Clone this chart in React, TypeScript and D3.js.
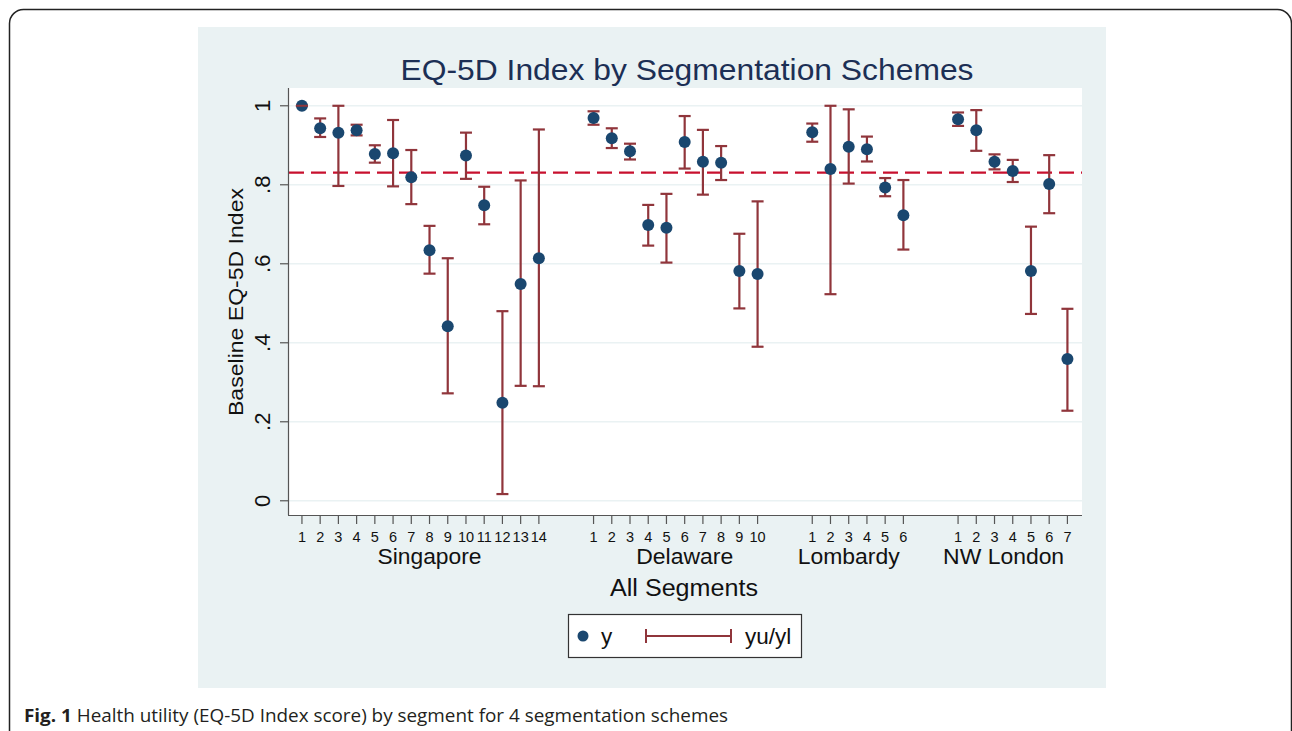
import React from 'react';
import * as d3 from 'd3';

// segmentation schemes and where each one starts on the "All Segments" axis
const groups = ["Singapore", "Delaware", "Lombardy", "NW London"];
const groupStart = [1, 17, 29, 37];
const groupLabelAt = [8, 22, 31, 39.5];

// mean EQ-5D index per segment (y)
const yMean = [
  [1.0, 0.943, 0.932, 0.938, 0.878, 0.880, 0.819, 0.634, 0.442, 0.874, 0.748, 0.248, 0.549, 0.614],
  [0.969, 0.918, 0.885, 0.698, 0.691, 0.908, 0.858, 0.856, 0.582, 0.574],
  [0.933, 0.840, 0.896, 0.890, 0.793, 0.723],
  [0.966, 0.938, 0.858, 0.835, 0.582, 0.802, 0.359],
];
// upper bound (yu)
const yUpper = [
  [1.0, 0.968, 1.0, 0.952, 0.900, 0.964, 0.888, 0.696, 0.614, 0.932, 0.795, 0.480, 0.811, 0.940],
  [0.986, 0.943, 0.904, 0.749, 0.777, 0.974, 0.939, 0.898, 0.676, 0.758],
  [0.955, 1.0, 0.991, 0.922, 0.817, 0.812],
  [0.983, 0.989, 0.877, 0.863, 0.694, 0.875, 0.486],
];
// lower bound (yl)
const yLower = [
  [1.0, 0.921, 0.797, 0.925, 0.856, 0.796, 0.751, 0.575, 0.272, 0.815, 0.700, 0.017, 0.291, 0.290],
  [0.952, 0.893, 0.864, 0.646, 0.603, 0.841, 0.775, 0.812, 0.487, 0.390],
  [0.909, 0.523, 0.803, 0.859, 0.771, 0.636],
  [0.949, 0.886, 0.839, 0.807, 0.473, 0.728, 0.228],
];

const overallMean = 0.831;
const yTicks = [0, 0.2, 0.4, 0.6, 0.8, 1];
const yTickLabels = ["0", ".2", ".4", ".6", ".8", "1"];

const W = 1292;
const H = 731;
const font = "'Liberation Sans', Arial, sans-serif";

const NAVY = "#1a476f";
const MAROON = "#90353b";
const BG = "#eaf2f3";

// widths of the larger labels as they appear in the original (wide Helvetica)
const groupLabelWidth = [104, 97, 102, 121];

const App: React.FC = () => {
  const x = d3.scaleLinear().domain([0.29, 43.8]).range([289, 1082]);
  const y = d3.scaleLinear().domain([-0.036, 1.045]).range([515, 88]);

  const points = groups.flatMap((g, gi) =>
    yMean[gi].map((m, i) => ({
      group: g,
      seg: i + 1,
      pos: groupStart[gi] + i,
      mean: m,
      lo: yLower[gi][i],
      hi: yUpper[gi][i],
    }))
  );

  const capW = 6;

  return (
    <div style={{ position: 'absolute', left: 0, top: 0 }}>
      <svg width={W} height={H} style={{ display: 'block', background: '#fff' }}>
        {/* figure frame */}
        <rect x={9.5} y={9.5} width={1282} height={760} rx={14} fill="none" stroke="#222" strokeWidth={1.5} />

        {/* graph region */}
        <rect x={198} y={27} width={908} height={661} fill={BG} />
        <rect x={289} y={88} width={793} height={427} fill="#fff" />

        <text x={687} y={80} textAnchor="middle" fontFamily={font} fontSize={29} fill="#1c2f55"
          textLength={573} lengthAdjust="spacingAndGlyphs">
          EQ-5D Index by Segmentation Schemes
        </text>

        {/* gridlines */}
        {yTicks.map(t => (
          <line key={t} x1={289} x2={1082} y1={y(t)} y2={y(t)} stroke={BG} strokeWidth={1.6} />
        ))}

        {/* y axis */}
        <line x1={288.5} x2={288.5} y1={88} y2={515} stroke="#555" strokeWidth={1.2} />
        {yTicks.map((t, i) => (
          <g key={t}>
            <line x1={280} x2={288} y1={y(t)} y2={y(t)} stroke="#555" strokeWidth={1.2} />
            <text
              transform={`translate(270,${y(t)}) rotate(-90)`}
              textAnchor="middle"
              fontFamily={font}
              fontSize={22}
              fill="#111"
            >
              {yTickLabels[i]}
            </text>
          </g>
        ))}
        <text
          transform="translate(243,302) rotate(-90)"
          textAnchor="middle"
          fontFamily={font}
          fontSize={21}
          fill="#111"
          textLength={228}
          lengthAdjust="spacingAndGlyphs"
        >
          Baseline EQ-5D Index
        </text>

        {/* x axis */}
        <line x1={288} x2={1082} y1={515.5} y2={515.5} stroke="#555" strokeWidth={1.2} />
        {points.map(p => (
          <g key={p.group + p.seg}>
            <line x1={x(p.pos)} x2={x(p.pos)} y1={516} y2={524} stroke="#555" strokeWidth={1.2} />
            <text x={x(p.pos)} y={542} textAnchor="middle" fontFamily={font} fontSize={14.5} fill="#111">
              {p.seg}
            </text>
          </g>
        ))}
        {groups.map((g, gi) => (
          <text key={g} x={x(groupLabelAt[gi])} y={564} textAnchor="middle" fontFamily={font} fontSize={22.5} fill="#111"
            textLength={groupLabelWidth[gi]} lengthAdjust="spacingAndGlyphs">
            {g}
          </text>
        ))}
        <text x={684} y={596} textAnchor="middle" fontFamily={font} fontSize={23} fill="#111"
          textLength={148} lengthAdjust="spacingAndGlyphs">
          All Segments
        </text>

        {/* overall mean reference line */}
        <line
          x1={289}
          x2={1082}
          y1={y(overallMean)}
          y2={y(overallMean)}
          stroke="#c8102e"
          strokeWidth={2.2}
          strokeDasharray="15 7"
        />

        {/* range bars */}
        {points.map(p => (
          <g key={'ci' + p.group + p.seg} stroke={MAROON} strokeWidth={2.2}>
            <line x1={x(p.pos)} x2={x(p.pos)} y1={y(p.lo)} y2={y(p.hi)} />
            <line x1={x(p.pos) - capW} x2={x(p.pos) + capW} y1={y(p.hi)} y2={y(p.hi)} />
            <line x1={x(p.pos) - capW} x2={x(p.pos) + capW} y1={y(p.lo)} y2={y(p.lo)} />
          </g>
        ))}

        {/* means */}
        {points.map(p => (
          <circle key={'pt' + p.group + p.seg} cx={x(p.pos)} cy={y(p.mean)} r={6} fill={NAVY} />
        ))}
        {/* zero-width ranges show as a line across the dot */}
        {points.filter(p => p.hi === p.lo).map(p => (
          <line
            key={'cap' + p.group + p.seg}
            x1={x(p.pos) - capW}
            x2={x(p.pos) + capW}
            y1={y(p.hi)}
            y2={y(p.hi)}
            stroke={MAROON}
            strokeWidth={2}
          />
        ))}

        {/* legend */}
        <rect x={568.5} y={614.5} width={233} height={43} fill="#fff" stroke="#333" strokeWidth={1.2} />
        <circle cx={583} cy={636} r={5.5} fill={NAVY} />
        <text x={601} y={644} fontFamily={font} fontSize={22.5} fill="#111">y</text>
        <g stroke={MAROON} strokeWidth={2}>
          <line x1={646} x2={731} y1={636} y2={636} />
          <line x1={646} x2={646} y1={629} y2={643} />
          <line x1={731} x2={731} y1={629} y2={643} />
        </g>
        <text x={745} y={644} fontFamily={font} fontSize={22.5} fill="#111">yu/yl</text>

        {/* caption */}
        <text x={24} y={722} fontFamily="'Open Sans', sans-serif" fontSize={17.5} fill="#231f20" textLength={704} lengthAdjust="spacingAndGlyphs">
          <tspan fontWeight="bold">Fig. 1</tspan>
          <tspan> Health utility (EQ-5D Index score) by segment for 4 segmentation schemes</tspan>
        </text>
      </svg>
    </div>
  );
};

export default App;
